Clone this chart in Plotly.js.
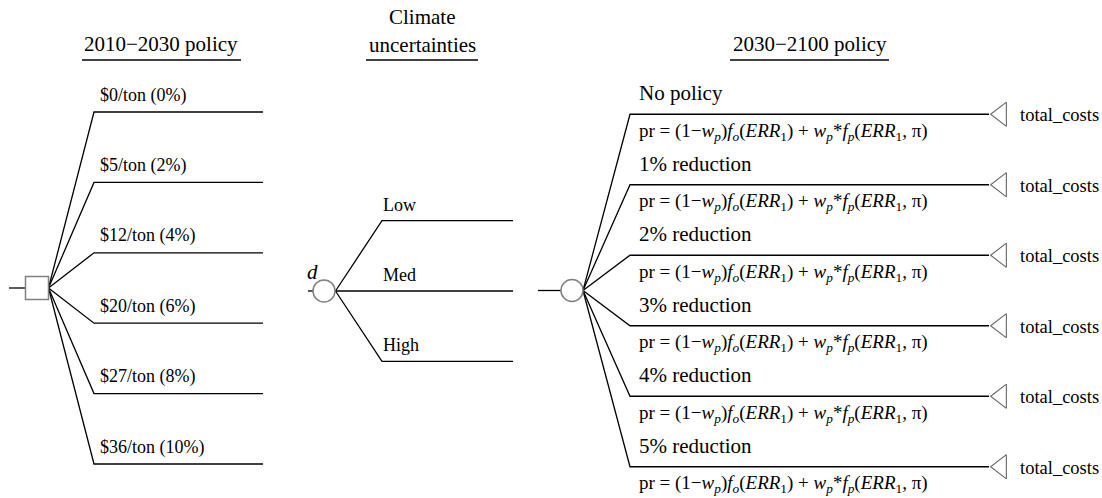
<!DOCTYPE html>
<html><head><meta charset="utf-8">
<script src="https://cdn.plot.ly/plotly-3.0.1.min.js"></script>
<style>html,body{margin:0;padding:0;background:#fff}</style>
</head><body><div id="chart" style="width:1102px;height:498px"></div>
<script>
// ---------- data ----------
const stage1Title = "2010\u22122030 policy";
const stage1Options = ["$0/ton (0%)", "$5/ton (2%)", "$12/ton (4%)", "$20/ton (6%)", "$27/ton (8%)", "$36/ton (10%)"];
const stage2TitleLines = ["Climate", "uncertainties"];
const stage2Outcomes = ["Low", "Med", "High"];
const stage2NodeLabel = "d";
const stage3Title = "2030\u22122100 policy";
const stage3Options = ["No policy", "1% reduction", "2% reduction", "3% reduction", "4% reduction", "5% reduction"];
const probabilityFormula = "pr = (1\u2212<i>w</i><sub><i>p</i></sub>)<i>f</i><sub><i>o</i></sub>(<i>ERR</i><sub>1</sub>) + <i>w</i><sub><i>p</i></sub>*<i>f</i><sub><i>p</i></sub>(<i>ERR</i><sub>1</sub>, \u03c0)";
const payoffLabel = "total_costs";

// ---------- layout geometry (pixel space of the drawing) ----------
const FONT = "'Liberation Serif', 'Times New Roman', serif";
const G = {
  s1: {nx:37, ny:288, size:23, root:48.5, stub:9, corner:94, end:263, step:70.4, labelX:98, labelDy:-17, labelSize:18,
       titleX:161, titleY:44, ul:[82,241]},
  s2: {nx:324, ny:291, size:22, root:335.5, stub:308, corner:382, end:513, step:70.4, labelX:381, labelDy:-16, labelSize:18,
       titleX:422, titleYs:[17,45], ul:[366,478]},
  s3: {nx:572, ny:290.5, size:22, root:583, stub:538, corner:630, end:989, step:70.5, labelX:637, labelDy:-21, labelSize:21,
       formulaDy:17.5, formulaSize:19, triSize:21, payoffX:1018, payoffSize:18.5,
       titleX:809.5, titleY:44, ul:[730,889]},
  ulY:60, titleSize:21
};

function branchYs(stage, n){
  const ys=[];
  for(let i=0;i<n;i++) ys.push(stage.ny + (i-(n-1)/2)*stage.step);
  return ys;
}
function treeLines(stage, n, nodeHalf){
  const x=[stage.stub, stage.nx - nodeHalf, null], y=[stage.ny, stage.ny, null];
  branchYs(stage,n).forEach(by=>{
    x.push(stage.root, stage.corner, stage.end, null);
    y.push(stage.ny, by, by, null);
  });
  return {x,y};
}

const lineStyle = {color:"#000", width:1.3};
const traces = [];
const t1 = treeLines(G.s1, stage1Options.length, G.s1.size/2);
const t2 = treeLines(G.s2, stage2Outcomes.length, G.s2.size/2);
const t3 = treeLines(G.s3, stage3Options.length, G.s3.size/2);
[t1,t2,t3].forEach(t=>traces.push({type:"scatter",mode:"lines",x:t.x,y:t.y,line:lineStyle,hoverinfo:"skip"}));

// underlines of the stage titles
const ulx=[], uly=[];
[G.s1,G.s2,G.s3].forEach(s=>{ulx.push(s.ul[0],s.ul[1],null); uly.push(G.ulY,G.ulY,null);});
traces.push({type:"scatter",mode:"lines",x:ulx,y:uly,line:{color:"#000",width:1.5},hoverinfo:"skip"});

// nodes
const nodeLine = {color:"#808080", width:1.5};
traces.push({type:"scatter",mode:"markers",x:[G.s1.nx],y:[G.s1.ny],
  marker:{symbol:"square",size:G.s1.size,color:"#fff",line:nodeLine},hoverinfo:"skip"});
traces.push({type:"scatter",mode:"markers",x:[G.s2.nx,G.s3.nx],y:[G.s2.ny,G.s3.ny],
  marker:{symbol:"circle",size:G.s2.size,color:"#fff",line:nodeLine},hoverinfo:"skip"});

// terminal triangles
const ys3 = branchYs(G.s3, stage3Options.length);
const triR = G.s3.triSize/2;
traces.push({type:"scatter",mode:"markers",
  x:ys3.map(()=>G.s3.end + triR*2/Math.sqrt(3)), y:ys3,
  marker:{symbol:"triangle-left",size:G.s3.triSize,color:"#fff",line:{color:"#666",width:1.1}},hoverinfo:"skip"});

// ---------- annotations ----------
const ann = [];
function txt(x,y,text,size,opts){
  ann.push(Object.assign({x,y,xref:"x",yref:"y",text,showarrow:false,xanchor:"left",yanchor:"middle",
    font:{family:FONT,size,color:"#000"}},opts||{}));
}
txt(G.s1.titleX,G.s1.titleY,stage1Title,G.titleSize,{xanchor:"center"});
stage2TitleLines.forEach((t,i)=>txt(G.s2.titleX,G.s2.titleYs[i],t,G.titleSize,{xanchor:"center"}));
txt(G.s3.titleX,G.s3.titleY,stage3Title,G.titleSize,{xanchor:"center"});

branchYs(G.s1,stage1Options.length).forEach((y,i)=>txt(G.s1.labelX,y+G.s1.labelDy,stage1Options[i],G.s1.labelSize));
branchYs(G.s2,stage2Outcomes.length).forEach((y,i)=>txt(G.s2.labelX,y+G.s2.labelDy,stage2Outcomes[i],G.s2.labelSize));
txt(312,272,"<i>"+stage2NodeLabel+"</i>",21,{xanchor:"center"});
ys3.forEach((y,i)=>{
  txt(G.s3.labelX,y+G.s3.labelDy,stage3Options[i],G.s3.labelSize);
  txt(G.s3.labelX,y+G.s3.formulaDy,probabilityFormula,G.s3.formulaSize);
  txt(G.s3.payoffX,y+1,payoffLabel,G.s3.payoffSize);
});

const layout = {
  width:1102,height:498,margin:{l:0,r:0,t:0,b:0},
  font:{family:FONT,color:"#000"},
  paper_bgcolor:"#fff",plot_bgcolor:"#fff",showlegend:false,hovermode:false,
  xaxis:{range:[0,1102],visible:false,fixedrange:true},
  yaxis:{range:[498,0],visible:false,fixedrange:true},
  annotations:ann
};
Plotly.newPlot("chart",traces,layout,{staticPlot:true,displayModeBar:false});
</script></body></html>
